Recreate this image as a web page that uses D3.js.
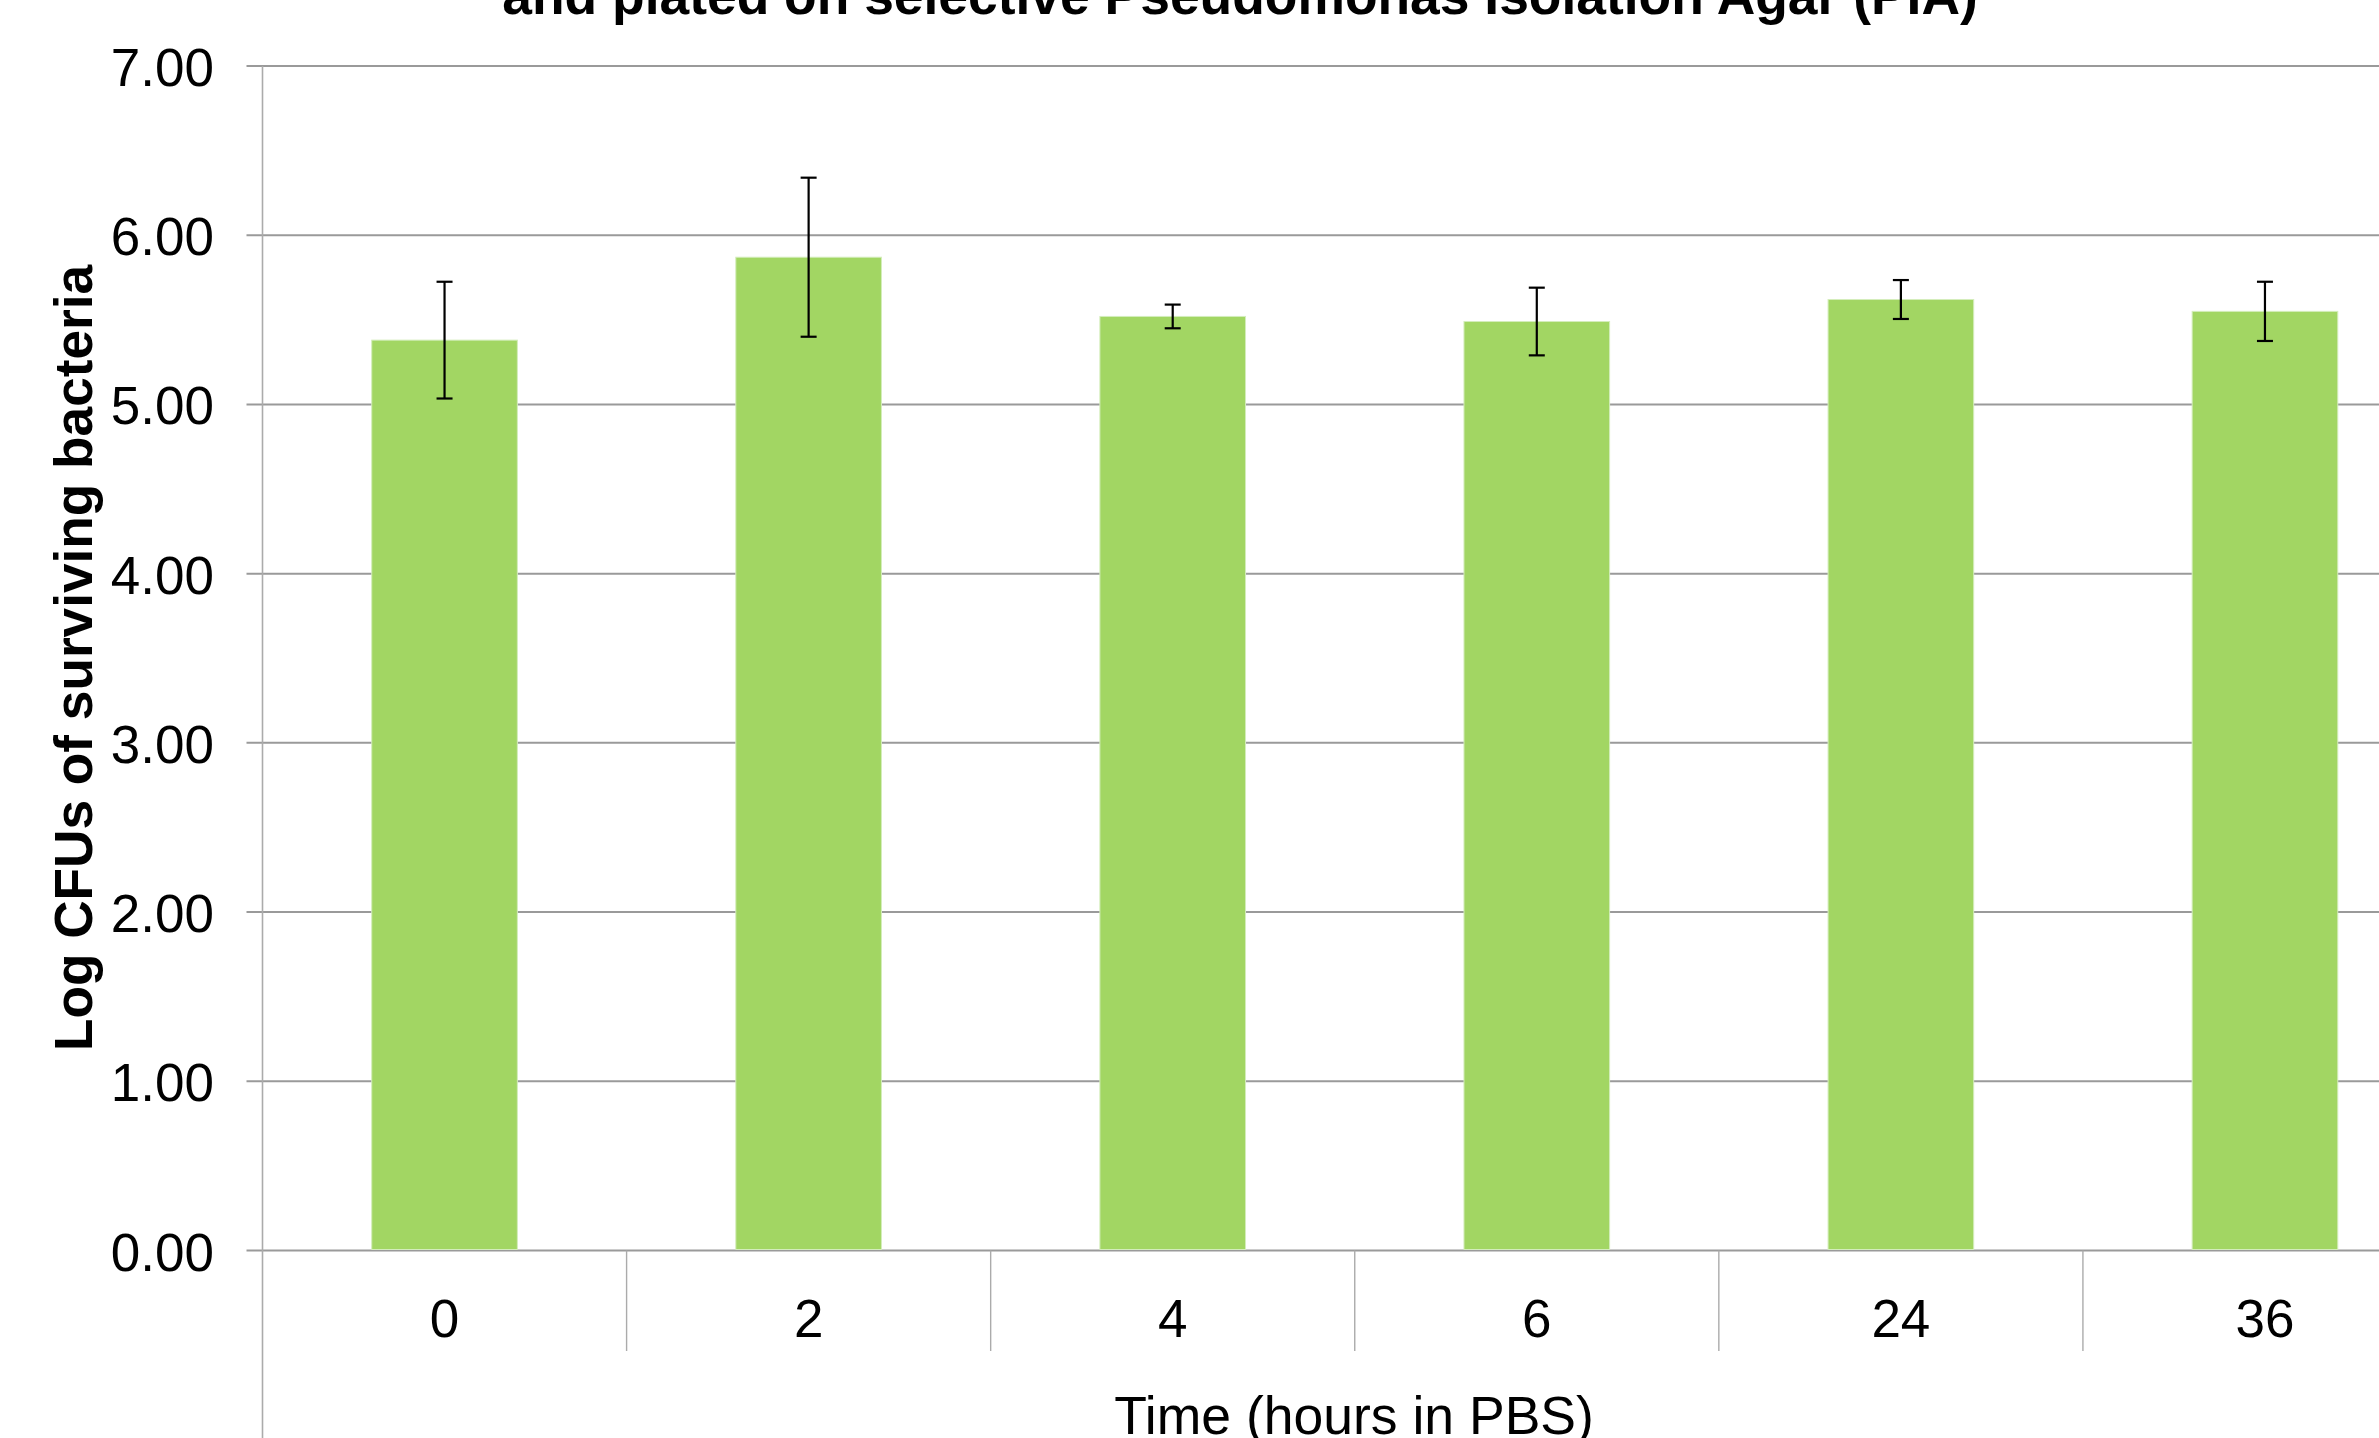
<!DOCTYPE html>
<html>
<head>
<meta charset="utf-8">
<script src="https://cdn.jsdelivr.net/npm/d3@7"></script>
<style>
  html, body { margin: 0; padding: 0; background: #ffffff; overflow: hidden; }
  svg { display: block; font-family: "Liberation Sans", Arial, sans-serif; }
</style>
</head>
<body>
<script>
// ---- data ----
const categories = ["0", "2", "4", "6", "24", "36"];
const meanLogCFU = [5.38, 5.87, 5.52, 5.49, 5.62, 5.55];
const errorLogCFU = [0.345, 0.47, 0.07, 0.20, 0.115, 0.175];
const yTickValues = [0, 1, 2, 3, 4, 5, 6, 7];
const titleText = "and plated on selective Pseudomonas Isolation Agar (PIA)";
const xTitle = "Time (hours in PBS)";
const yTitle = "Log CFUs of surviving bacteria";

// ---- layout ----
const W = 2379, H = 1438;
const plotLeft = 262.5, plotRight = 2447, plotTop = 66, plotBottom = 1250.5;

const svg = d3.select("body").append("svg").attr("width", W).attr("height", H);

const x = d3.scaleBand().domain(categories).range([plotLeft, plotRight])
  .paddingInner(0.6).paddingOuter(0.3);
const step = x.step();
const y = d3.scaleLinear().domain([0, 7]).range([plotBottom, plotTop]);

// gridlines (with small outside tick)
svg.append("g").selectAll("line").data(yTickValues).join("line")
  .attr("x1", plotLeft - 16).attr("x2", W)
  .attr("y1", d => y(d)).attr("y2", d => y(d))
  .attr("stroke", "#9a9a9a").attr("stroke-width", 2);

// y tick labels
svg.append("g").selectAll("text").data(yTickValues).join("text")
  .attr("x", 214).attr("y", d => y(d) + 20)
  .attr("text-anchor", "end")
  .attr("font-size", 53).attr("fill", "#000")
  .text(d => d3.format(".2f")(d));

// y axis line
svg.append("line")
  .attr("x1", plotLeft).attr("x2", plotLeft)
  .attr("y1", plotTop).attr("y2", H)
  .attr("stroke", "#ababab").attr("stroke-width", 1.6);

// category separators
const seps = categories.map(c => x(c) - x.paddingOuter() * step + step);
svg.append("g").selectAll("line").data(seps).join("line")
  .attr("x1", d => d).attr("x2", d => d)
  .attr("y1", plotBottom).attr("y2", 1351)
  .attr("stroke", "#ababab").attr("stroke-width", 1.4);

// bars
const data = categories.map((c, i) => ({ c, v: meanLogCFU[i], e: errorLogCFU[i] }));
svg.append("g").selectAll("rect").data(data).join("rect")
  .attr("x", d => x(d.c)).attr("width", x.bandwidth())
  .attr("y", d => y(d.v)).attr("height", d => y(0) - y(d.v) - 1)
  .attr("fill", "#a2d663")
  .attr("stroke", "#d4edbc").attr("stroke-width", 1);

// error bars
const eb = svg.append("g").attr("stroke", "#000").attr("stroke-width", 2.2);
data.forEach(d => {
  const cx = x(d.c) + x.bandwidth() / 2;
  eb.append("line").attr("x1", cx).attr("x2", cx)
    .attr("y1", y(d.v + d.e)).attr("y2", y(d.v - d.e));
  [d.v + d.e, d.v - d.e].forEach(v => {
    eb.append("line").attr("x1", cx - 8).attr("x2", cx + 8)
      .attr("y1", y(v)).attr("y2", y(v));
  });
});

// x tick labels
svg.append("g").selectAll("text").data(categories).join("text")
  .attr("x", d => x(d) + x.bandwidth() / 2).attr("y", 1337)
  .attr("text-anchor", "middle").attr("font-size", 53).attr("fill", "#000")
  .text(d => d);

// x axis title
svg.append("text")
  .attr("x", 1354).attr("y", 1434)
  .attr("text-anchor", "middle").attr("font-size", 53.5).attr("fill", "#000")
  .text(xTitle);

// y axis title
svg.append("text")
  .attr("transform", "translate(92,658) rotate(-90)")
  .attr("text-anchor", "middle").attr("font-size", 53.2).attr("font-weight", "bold")
  .attr("fill", "#000")
  .text(yTitle);

// chart title (partially cropped at top)
svg.append("text")
  .attr("x", 1240).attr("y", 14)
  .attr("text-anchor", "middle").attr("font-size", 53.4).attr("font-weight", "bold")
  .attr("fill", "#000")
  .text(titleText);
</script>
</body>
</html>
